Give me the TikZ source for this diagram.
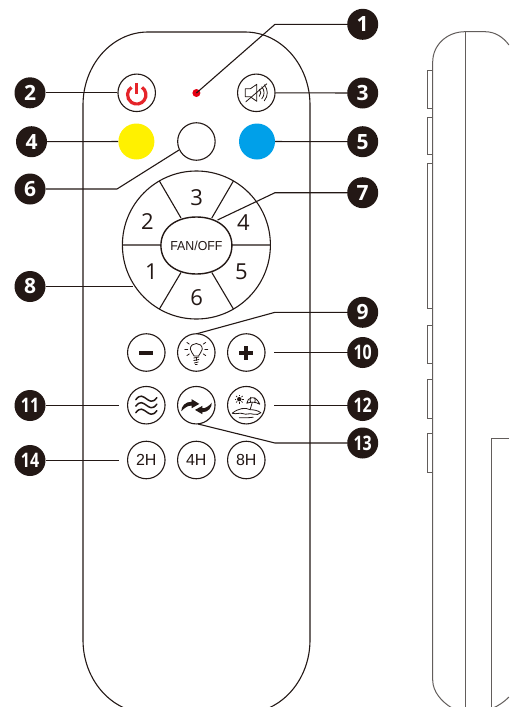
\documentclass[tikz,border=0pt]{standalone}
\usepackage{fontspec}
\usetikzlibrary{shapes.geometric}
\setmainfont{Open Sans}
\newfontfamily\arialf{Liberation Sans}
\definecolor{ink}{HTML}{231815}
\definecolor{sideink}{HTML}{625D5B}
\definecolor{lampyellow}{HTML}{FFF100}
\definecolor{lampblue}{HTML}{00A0E9}
\definecolor{ledred}{HTML}{E60012}
\definecolor{powerred}{HTML}{E5242A}
\tikzset{
  line/.style={draw=ink,line width=1.1pt},
  sideline/.style={draw=sideink,line width=1pt},
  btn/.style={circle,draw=ink,line width=1.1pt,fill=white,minimum size=37.5pt,inner sep=0pt},
  lamp/.style={circle,minimum size=36pt,inner sep=0pt},
  callout/.style={circle,fill=ink,text=white,minimum size=31pt,inner sep=0pt,font=\fontsize{21}{21}\selectfont\bfseries},
  wheeltxt/.style={text=ink,inner sep=0pt,font=\fontsize{22}{22}\selectfont},
  hourtxt/.style={text=ink,font=\arialf\fontsize{16}{16}\selectfont},
  thin icon/.style={draw=ink,line width=.8pt,line cap=round,line join=round}
}
\newcommand{\two}[1]{\scalebox{.8}[1]{\fontsize{20}{20}\selectfont #1}}
\begin{document}
\begin{tikzpicture}[x=1pt,y=-1pt]
\clip (0,0) rectangle (509,707);
\fill[white] (0,0) rectangle (509,707);
% remote body
\draw[line] (83,640) -- (83,105) .. controls (83,65) and (112,32) .. (148,32) -- (245,32)
  .. controls (281,32) and (310,65) .. (310,105) -- (310,640)
  .. controls (310,680) and (281,713) .. (245,713) -- (148,713)
  .. controls (112,713) and (83,680) .. (83,640) -- cycle;
% side view
\draw[sideline] (432.7,680) -- (432.7,62) .. controls (432.7,45) and (447,31.7) .. (465,31.7)
  -- (485,31.7) .. controls (495,31.7) and (503,37) .. (509,45);
\draw[sideline] (432.7,680) .. controls (432.7,692) and (442,702) .. (452,708);
\draw[sideline] (465,31.7) -- (465,708);
\draw[sideline] (509,438.7) -- (491.7,438.7) -- (491.7,708);
\draw[sideline] (509,697) .. controls (504,702) and (498,706) .. (493,708);
\foreach \ya/\yb in {70.7/108.3,117.3/154.3,163.3/308,325/363.3,379/418,433/472}
  \draw[sideline] (432.7,\ya) -- (427.7,\ya) -- (427.7,\yb) -- (432.7,\yb);
% wheel
\node[circle,draw=ink,line width=1.1pt,minimum size=148pt,inner sep=0pt] (wheel) at (196.4,245) {};
\draw[line] (122.4,245) -- (161,245) (232,245) -- (270.4,245)
  (159.4,181) -- (181,218) (233.4,181) -- (211.8,218)
  (159.4,309) -- (181,272.5) (233.4,309) -- (211.8,272.5);
\draw[draw=ink,line width=1.4pt,fill=white] (160.9,245.5) .. controls (160.9,227.8) and (176.4,217) .. (196.4,217)
  .. controls (216.4,217) and (231.9,227.8) .. (231.9,245.5)
  .. controls (231.9,263.2) and (216.4,274) .. (196.4,274)
  .. controls (176.4,274) and (160.9,263.2) .. (160.9,245.5) -- cycle;
\node[inner sep=0pt] (fan) at (196.4,245.5)
  {\scalebox{.95}[1]{\arialf\fontsize{13}{13}\selectfont\color{ink}FAN/OFF}};
\node[wheeltxt] (w3) at (196.7,198) {3};
\node[wheeltxt] (w2) at (147.5,222) {2};
\node[wheeltxt] (w4) at (243.5,222.5) {4};
\node[wheeltxt] (w1) at (151.5,272) {1};
\node[wheeltxt] (w5) at (241.5,272) {5};
\node[wheeltxt] (w6) at (196.7,298) {6};
% buttons
\node[btn] (power) at (136.7,92.8) {};
\node[btn] (mute) at (256.3,92.8) {};
\node[circle,fill=ledred,minimum size=8pt,inner sep=0pt] (led) at (196.4,93) {};
\node[lamp,fill=lampyellow] (yellow) at (136.4,141.5) {};
\node[btn] (white) at (196.4,141.5) {};
\node[lamp,fill=lampblue] (blue) at (257,141.5) {};
\node[btn] (minus) at (146.3,352.5) {};
\node[btn] (bulb) at (196.3,352.5) {};
\node[btn] (plus) at (246.3,352.5) {};
\node[btn] (wave) at (146.3,405.2) {};
\node[btn] (swap) at (196.3,405.2) {};
\node[btn] (beach) at (246.3,405.2) {};
\node[btn,hourtxt] (h2) at (146.3,460) {2H};
\node[btn,hourtxt] (h4) at (196.3,460) {4H};
\node[btn,hourtxt] (h8) at (246.3,460) {8H};
% power icon
\begin{scope}[shift={(power.center)}]
\draw[powerred,line width=3.2pt] (5.3,-5.5) arc[start angle=-55,end angle=235,radius=9.2];
\draw[powerred,line width=3.2pt] (0,-10) -- (0,1);
\end{scope}
% mute icon
\begin{scope}[shift={(mute.center)}]
\draw[thin icon] (-11,-4) -- (-6,-4) -- (0.5,-8.5) -- (0.5,8.5) -- (-6,4) -- (-11,4) -- cycle;
\draw[thin icon] (3,-3.5) .. controls (5,-1.5) and (5,1.5) .. (3,3.5);
\draw[thin icon] (5.5,-6) .. controls (8.5,-2.5) and (8.5,2.5) .. (5.5,6);
\draw[thin icon] (8,-8) .. controls (12,-3) and (12,3) .. (8,8);
\draw[thin icon] (-10.5,9) -- (10.5,-9);
\end{scope}
% minus, plus
\fill[ink] ([xshift=-7pt,yshift=-2pt]minus.center) rectangle ([xshift=7pt,yshift=2pt]minus.center);
\fill[ink] ([xshift=-7pt,yshift=-2pt]plus.center) rectangle ([xshift=7pt,yshift=2pt]plus.center);
\fill[ink] ([xshift=-2pt,yshift=-7pt]plus.center) rectangle ([xshift=2pt,yshift=7pt]plus.center);
% bulb icon
\begin{scope}[shift={(bulb.center)}]
\draw[thin icon] (-2.2,3.5) .. controls (-3,0.5) and (-6,-0.5) .. (-6,-3.5)
  .. controls (-6,-7) and (-3,-9) .. (0,-9) .. controls (3,-9) and (6,-7) .. (6,-3.5)
  .. controls (6,-0.5) and (3,0.5) .. (2.2,3.5) -- cycle;
\draw[thin icon] (-2.6,5.5) -- (2.6,4.5) (-2.6,8) -- (2.6,7) (-2,10.5) -- (2,9.5) (-1,12) -- (1,12);
\foreach \a in {180,215,270,325,0,145,35}
  \draw[thin icon] ({8.5*cos(\a)},{-3.5-8.5*sin(\a)}) -- ({11.5*cos(\a)},{-3.5-11.5*sin(\a)});
\end{scope}
% waves icon
\begin{scope}[shift={(wave.center)}]
\foreach \d in {-6.5,0,6.5}
  \draw[draw=ink,line width=1.5pt,line cap=round] (-10.5,\d+1) .. controls (-6,\d-5) and (-3,\d-2) .. (0,\d)
    .. controls (3,\d+2) and (6,\d+5) .. (10.5,\d-1);
\end{scope}
% swap icon
\begin{scope}[shift={(swap.center)}]
\fill[ink] (-15,6) .. controls (-15,1) and (-11,-3.5) .. (-4.6,-3.5) -- (-4.6,-6) -- (3,-1.3) -- (-4.6,3) -- (-4.6,0.5)
  .. controls (-8,0) and (-11,2) .. (-15,6) -- cycle;
\fill[ink] (15.5,-2.5) .. controls (15.5,2.5) and (12,7) .. (6,7) -- (6,9) -- (-1.3,4.7) -- (6,0.7) -- (6,3)
  .. controls (9,3.3) and (12,1.5) .. (15.5,-2.5) -- cycle;
\end{scope}
% beach icon
\begin{scope}[shift={(beach.center)}]
\fill[ink] (-7,-6) circle (2.2);
\foreach \a in {0,45,...,315}
  \draw[ink,line width=.7pt] ({-7+3*cos(\a)},{-6+3*sin(\a)}) -- ({-7+4.6*cos(\a)},{-6+4.6*sin(\a)});
\draw[thin icon] (0.5,-2) .. controls (1,-8) and (9,-11) .. (13.5,-1) .. controls (9,-3.5) and (5,-3.5) .. (0.5,-2) -- cycle;
\draw[thin icon] (4.5,-8) .. controls (3.5,-6) and (3.5,-4) .. (4.5,-3) (8.5,-7.5) .. controls (9,-6) and (9,-4) .. (8.5,-3);
\draw[thin icon] (6,-3) -- (4,4);
\draw[thin icon] (-14,8) .. controls (-8,3) and (-1,2) .. (4,4.5) .. controls (8,4.5) and (12,5.5) .. (14.5,7.5);
\draw[thin icon] (-14,8) .. controls (-10,9.5) and (-7,7) .. (-3,8.5) .. controls (0,10) and (3,7.5) .. (7,9) .. controls (10,10) and (13,9) .. (14.5,7.5);
\draw[thin icon] (-7,12.5) .. controls (-4,11.5) and (-2,13.5) .. (1,12.5) .. controls (3,12) and (5,12.8) .. (7,12);
\end{scope}
% callouts
\node[callout] (c1) at (362.7,24.3) {1};
\node[callout] (c2) at (30,92.8) {2};
\node[callout] (c3) at (362.7,93) {3};
\node[callout] (c4) at (31.5,141.7) {4};
\node[callout] (c5) at (362.7,141.7) {5};
\node[callout] (c6) at (30,189) {6};
\node[callout] (c7) at (362.7,192.7) {7};
\node[callout] (c8) at (30,286.5) {8};
\node[callout] (c9) at (362.7,312.3) {9};
\node[callout] (c10) at (362.7,352.5) {\two{10}};
\node[callout] (c11) at (30,405.5) {\two{11}};
\node[callout] (c12) at (362.7,405.5) {\two{12}};
\node[callout] (c13) at (362.7,443) {\two{13}};
\node[callout] (c14) at (30,460.5) {\two{14}};
% bends and free ends
\coordinate (b1) at (275,24.3);
\coordinate (b6) at (117,189);
\coordinate (e6) at (179,150);
\coordinate (b7) at (275,192.7);
\coordinate (e7) at (217.5,220);
\coordinate (e8) at (132.7,286.5);
\coordinate (b9) at (275,312.3);
\coordinate (e9) at (197,333.7);
\coordinate (e10) at (273.5,352.5);
\coordinate (e11) at (118.5,405.5);
\coordinate (e12) at (273.5,405.5);
\coordinate (b13) at (275,443);
\coordinate (e13) at (198,424);
\coordinate (e14) at (118.5,460.5);
% leaders
\draw[line] (c1) -- (b1) -- (led.center);
\draw[line] (c2) -- (power);
\draw[line] (c3) -- (mute);
\draw[line] (c4) -- (yellow);
\draw[line] (c5) -- (blue);
\draw[line] (c6) -- (b6) -- (e6);
\draw[line] (c7) -- (b7) -- (e7);
\draw[line] (c8) -- (e8);
\draw[line] (c9) -- (b9) -- (e9);
\draw[line] (c10) -- (e10);
\draw[line] (c11) -- (e11);
\draw[line] (c12) -- (e12);
\draw[line] (c13) -- (b13) -- (e13);
\draw[line] (c14) -- (e14);
\end{tikzpicture}
\end{document}
